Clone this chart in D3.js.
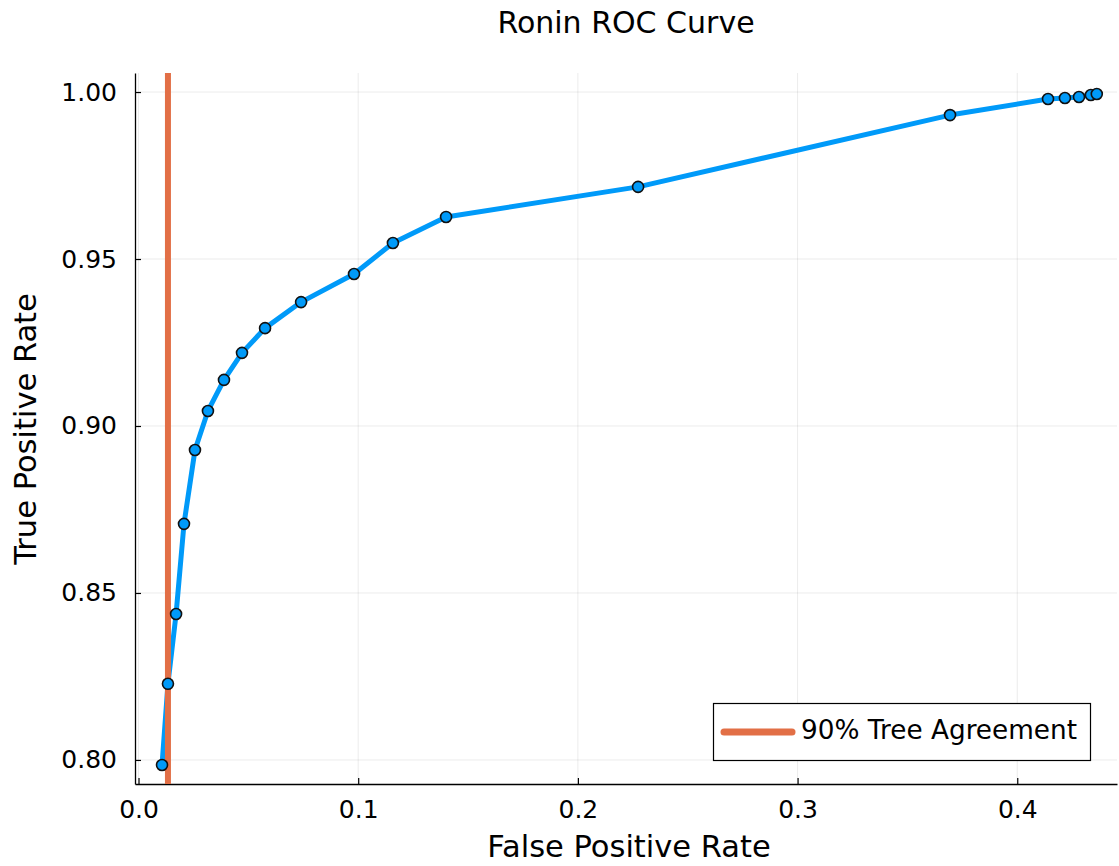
<!DOCTYPE html>
<html>
<head>
<meta charset="utf-8">
<script src="https://cdn.jsdelivr.net/npm/d3@7"></script>
<style>
  html, body { margin: 0; padding: 0; background: #fff; }
  text { font-family: "DejaVu Sans", sans-serif; fill: #000; }
</style>
</head>
<body>
<svg id="chart" width="1119" height="866"></svg>
<script>
// ROC curve points (false positive rate, true positive rate)
const fpr = [0.0107, 0.0134, 0.0171, 0.0207, 0.0257, 0.0316, 0.0389, 0.0471, 0.0576, 0.0740,
             0.0981, 0.1158, 0.1400, 0.2274, 0.3694, 0.4140, 0.4217, 0.4281, 0.4335, 0.4362];
const tpr = [0.7985, 0.8228, 0.8437, 0.8707, 0.8928, 0.9045, 0.9138, 0.9219, 0.9293, 0.9371,
             0.9455, 0.9548, 0.9626, 0.9716, 0.9931, 0.9979, 0.9982, 0.9985, 0.9991, 0.9994];
// FPR at which 90% of trees agree
const agreementFpr = [0.0134];
const xTicks = [0.0, 0.1, 0.2, 0.3, 0.4];
const yTicks = [0.80, 0.85, 0.90, 0.95, 1.00];
const titleText = "Ronin ROC Curve";
const xLabel = "False Positive Rate";
const yLabel = "True Positive Rate";
const legendLabel = "90% Tree Agreement";

const svg = d3.select("#chart");
const pLeft = 135, pRight = 1117, pTop = 73, pBottom = 784;

const x = d3.scaleLinear().domain([-0.0016, 0.4454]).range([pLeft, pRight]);
const y = d3.scaleLinear().domain([0.7928, 1.0057]).range([pBottom, pTop]);

// grid
const grid = svg.append("g");
grid.selectAll(".gx").data(xTicks).join("line")
  .attr("x1", d => x(d)).attr("x2", d => x(d))
  .attr("y1", pTop).attr("y2", pBottom)
  .attr("stroke", "#000").attr("stroke-opacity", 0.08).attr("stroke-width", 1);
grid.selectAll(".gy").data(yTicks).join("line")
  .attr("x1", pLeft).attr("x2", pRight)
  .attr("y1", d => y(d)).attr("y2", d => y(d))
  .attr("stroke", "#000").attr("stroke-opacity", 0.08).attr("stroke-width", 1);

// axes
const xAxis = d3.axisBottom(x).tickValues(xTicks).tickFormat(d3.format(".1f"))
  .tickSizeInner(-6).tickSizeOuter(0).tickPadding(16);
const yAxis = d3.axisLeft(y).tickValues(yTicks).tickFormat(d3.format(".2f"))
  .tickSizeInner(-6).tickSizeOuter(0).tickPadding(18);

const gx = svg.append("g").attr("transform", `translate(0,${pBottom})`).call(xAxis);
const gy = svg.append("g").attr("transform", `translate(${pLeft},0)`).call(yAxis);
[gx, gy].forEach(g => {
  g.select(".domain").attr("stroke", "#000").attr("stroke-width", 1.3);
  g.selectAll(".tick line").attr("stroke", "#000").attr("stroke-width", 1.2);
  g.selectAll(".tick text").style("font-family", "DejaVu Sans, sans-serif")
    .style("font-size", "25px").attr("fill", "#000");
});

// clip for plot contents
svg.append("clipPath").attr("id", "plotclip").append("rect")
  .attr("x", pLeft).attr("y", pTop).attr("width", pRight - pLeft).attr("height", pBottom - pTop);
const plot = svg.append("g").attr("clip-path", "url(#plotclip)");

// ROC line
const pts = fpr.map((f, i) => [f, tpr[i]]);
plot.append("path").datum(pts)
  .attr("fill", "none").attr("stroke", "#009af9").attr("stroke-width", 5)
  .attr("stroke-linejoin", "round")
  .attr("d", d3.line().x(d => x(d[0])).y(d => y(d[1])));

// vertical agreement line
plot.selectAll(".vline").data(agreementFpr).join("line")
  .attr("x1", d => x(d)).attr("x2", d => x(d))
  .attr("y1", pTop).attr("y2", pBottom)
  .attr("stroke", "#e26f46").attr("stroke-width", 6);

// markers
plot.selectAll(".pt").data(pts).join("circle")
  .attr("cx", d => x(d[0])).attr("cy", d => y(d[1])).attr("r", 5.5)
  .attr("fill", "#009af9").attr("stroke", "#111").attr("stroke-width", 1.6);

// title and axis labels
svg.append("text").attr("x", (pLeft + pRight) / 2).attr("y", 33)
  .attr("text-anchor", "middle").style("font-size", "30px").text(titleText);
svg.append("text").attr("x", (pLeft + pRight) / 2 + 3).attr("y", 857)
  .attr("text-anchor", "middle").style("font-size", "30.5px").text(xLabel);
svg.append("text").attr("transform", `translate(36,429) rotate(-90)`)
  .attr("text-anchor", "middle").style("font-size", "30.5px").text(yLabel);

// legend
const lg = svg.append("g");
lg.append("rect").attr("x", 713.5).attr("y", 703.5).attr("width", 377).attr("height", 57)
  .attr("fill", "#fff").attr("stroke", "#000").attr("stroke-width", 1.2);
lg.append("line").attr("x1", 724).attr("x2", 792).attr("y1", 732).attr("y2", 732)
  .attr("stroke", "#e26f46").attr("stroke-width", 7).attr("stroke-linecap", "round");
lg.append("text").attr("x", 801).attr("y", 739).style("font-size", "26.3px").text(legendLabel);
</script>
</body>
</html>
